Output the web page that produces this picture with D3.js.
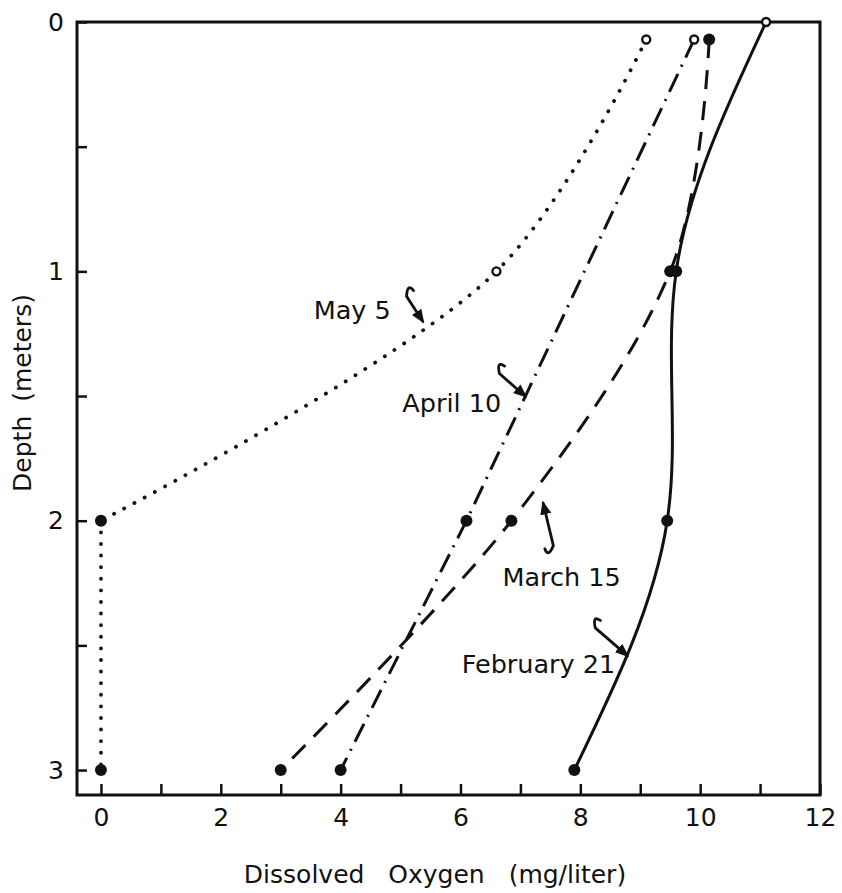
<!DOCTYPE html>
<html>
<head>
<meta charset="utf-8">
<script src="https://cdn.jsdelivr.net/npm/d3@7"></script>
<style>
  html, body { margin: 0; padding: 0; background: #fff; }
  svg { display: block; }
  text { font-family: "DejaVu Sans", sans-serif; fill: #111; }
</style>
</head>
<body>
<svg id="chart" width="842" height="893"></svg>
<script>
// ---- Data ----
const xTickValues = [0, 1, 2, 3, 4, 5, 6, 7, 8, 9, 10, 11, 12];
const xTickLabels = ["0", "", "2", "", "4", "", "6", "", "8", "", "10", "", "12"];
const yTickValues = [0, 0.5, 1, 1.5, 2, 2.5, 3];
const yTickLabels = ["0", "", "1", "", "2", "", "3"];

const febDepth = [0, 1, 2, 3];
const febDO    = [11.1, 9.6, 9.45, 7.9];
const febOpen  = [true, false, false, false];

const marDepth = [0.07, 1, 2, 3];
const marDO    = [10.15, 9.5, 6.85, 3.0];
const marOpen  = [false, false, false, false];

const aprDepth = [0.07, 2, 3];
const aprDO    = [9.9, 6.1, 4.0];
const aprOpen  = [true, false, false];

const mayDepth = [0.07, 1, 2, 3];
const mayDO    = [9.1, 6.6, 0, 0];
const mayOpen  = [true, true, false, false];

const seriesNames = ["February 21", "March 15", "April 10", "May 5"];
// label anchor (DO, depth) and arrow (tail -> tip) in data units
const labelPos  = [[6.02, 2.61], [6.7, 2.26], [5.03, 1.565], [3.55, 1.19]];
const arrowTail = [[8.25, 2.43], [7.55, 2.1], [6.65, 1.41], [5.1, 1.1]];
const arrowTip  = [[8.78, 2.54], [7.38, 1.93], [7.08, 1.5], [5.37, 1.2]];

// ---- Layout ----
const svg = d3.select("#chart");
const x = d3.scaleLinear().domain([-0.4, 12]).range([77, 820]);
const y = d3.scaleLinear().domain([0, 3.1]).range([22, 795]);
const ink = "#111";

// frame
svg.append("rect")
  .attr("x", x(-0.4)).attr("y", y(0))
  .attr("width", x(12) - x(-0.4)).attr("height", y(3.1) - y(0))
  .attr("fill", "none").attr("stroke", ink).attr("stroke-width", 3);

// x axis
const xAxis = d3.axisBottom(x).tickValues(xTickValues)
  .tickSize(-11).tickPadding(13)
  .tickFormat((d, i) => xTickLabels[i]);
const gx = svg.append("g").attr("transform", `translate(0,${y(3.1)})`).call(xAxis);
gx.select(".domain").remove();
gx.selectAll(".tick line").attr("stroke", ink).attr("stroke-width", 2.5);
gx.selectAll(".tick text").attr("font-size", 25).attr("font-family", "DejaVu Sans").attr("fill", ink);

// y axis
const yAxis = d3.axisLeft(y).tickValues(yTickValues)
  .tickSize(-10).tickPadding(13)
  .tickFormat((d, i) => yTickLabels[i]);
const gy = svg.append("g").attr("transform", `translate(${x(-0.4)},0)`).call(yAxis);
gy.select(".domain").remove();
gy.selectAll(".tick line").attr("stroke", ink).attr("stroke-width", 2.5);
gy.selectAll(".tick text").attr("font-size", 25).attr("font-family", "DejaVu Sans").attr("fill", ink);

// axis titles
svg.append("text")
  .attr("x", 435).attr("y", 883)
  .attr("text-anchor", "middle").attr("font-size", 25)
  .attr("word-spacing", 16)
  .text("Dissolved Oxygen (mg/liter)");
svg.append("text")
  .attr("transform", `translate(31,393) rotate(-90)`)
  .attr("text-anchor", "middle").attr("font-size", 25)
  .attr("word-spacing", 6)
  .text("Depth (meters)");

// ---- Lines ----
const lineFeb = d3.line().x(d => x(d[0])).y(d => y(d[1])).curve(d3.curveNatural);
const lineMar = d3.line().x(d => x(d[0])).y(d => y(d[1])).curve(d3.curveCardinal.tension(0));
const lineCurve = d3.line().x(d => x(d[0])).y(d => y(d[1])).curve(d3.curveCatmullRom.alpha(0.5));
const lineStraight = d3.line().x(d => x(d[0])).y(d => y(d[1]));

const zip = (a, b) => a.map((v, i) => [v, b[i]]);
const feb = zip(febDO, febDepth);
const mar = zip(marDO, marDepth);
const apr = zip(aprDO, aprDepth);
const may = zip(mayDO, mayDepth);

svg.append("path").attr("d", lineFeb(feb))
  .attr("fill", "none").attr("stroke", ink).attr("stroke-width", 3);

svg.append("path").attr("d", lineMar(mar))
  .attr("fill", "none").attr("stroke", ink).attr("stroke-width", 3)
  .attr("stroke-dasharray", "19,12");

svg.append("path").attr("d", lineStraight(apr))
  .attr("fill", "none").attr("stroke", ink).attr("stroke-width", 3)
  .attr("stroke-dasharray", "20,8,2,8");

// May 5: curved to the 2 m point, then straight down
svg.append("path").attr("d", lineCurve(may.slice(0, 3)))
  .attr("fill", "none").attr("stroke", ink).attr("stroke-width", 3.8)
  .attr("stroke-linecap", "round").attr("stroke-dasharray", "0.1,11.5");
svg.append("path").attr("d", lineStraight(may.slice(2)))
  .attr("fill", "none").attr("stroke", ink).attr("stroke-width", 3.8)
  .attr("stroke-linecap", "round").attr("stroke-dasharray", "0.1,11.5");

// ---- Markers ----
function drawPoints(data, open) {
  data.forEach((d, i) => {
    if (open[i]) {
      svg.append("circle").attr("cx", x(d[0])).attr("cy", y(d[1])).attr("r", 4)
        .attr("fill", "#fff").attr("stroke", ink).attr("stroke-width", 2.4);
    } else {
      svg.append("circle").attr("cx", x(d[0])).attr("cy", y(d[1])).attr("r", 6)
        .attr("fill", ink);
    }
  });
}
drawPoints(feb, febOpen);
drawPoints(mar, marOpen);
drawPoints(apr, aprOpen);
drawPoints(may, mayOpen);

// ---- Labels and hooked arrows ----
svg.append("defs").append("marker")
  .attr("id", "ah").attr("viewBox", "0 0 10 10")
  .attr("refX", 8).attr("refY", 5)
  .attr("markerWidth", 5).attr("markerHeight", 5)
  .attr("orient", "auto")
  .append("path").attr("d", "M0,1 L10,5 L0,9 Z").attr("fill", ink);

seriesNames.forEach((name, i) => {
  svg.append("text")
    .attr("x", x(labelPos[i][0])).attr("y", y(labelPos[i][1]))
    .attr("font-size", 25.5)
    .text(name);
  const tx = x(arrowTail[i][0]), ty = y(arrowTail[i][1]);
  const ex = x(arrowTip[i][0]), ey = y(arrowTip[i][1]);
  const dx = ex - tx, dy = ey - ty;
  const len = Math.hypot(dx, dy);
  const ux = dx / len, uy = dy / len;
  // small hook at the tail, bending to the perpendicular side
  const px = -uy, py = ux;
  const h0x = tx - px * 9 - ux * 1, h0y = ty - py * 9 - uy * 1;
  const c1x = tx - px * 8 - ux * 11, c1y = ty - py * 8 - uy * 11;
  svg.append("path")
    .attr("d", `M${h0x},${h0y} Q${c1x},${c1y} ${tx},${ty} L${ex},${ey}`)
    .attr("fill", "none").attr("stroke", ink).attr("stroke-width", 2.8)
    .attr("stroke-linecap", "round")
    .attr("marker-end", "url(#ah)");
});
</script>
</body>
</html>
